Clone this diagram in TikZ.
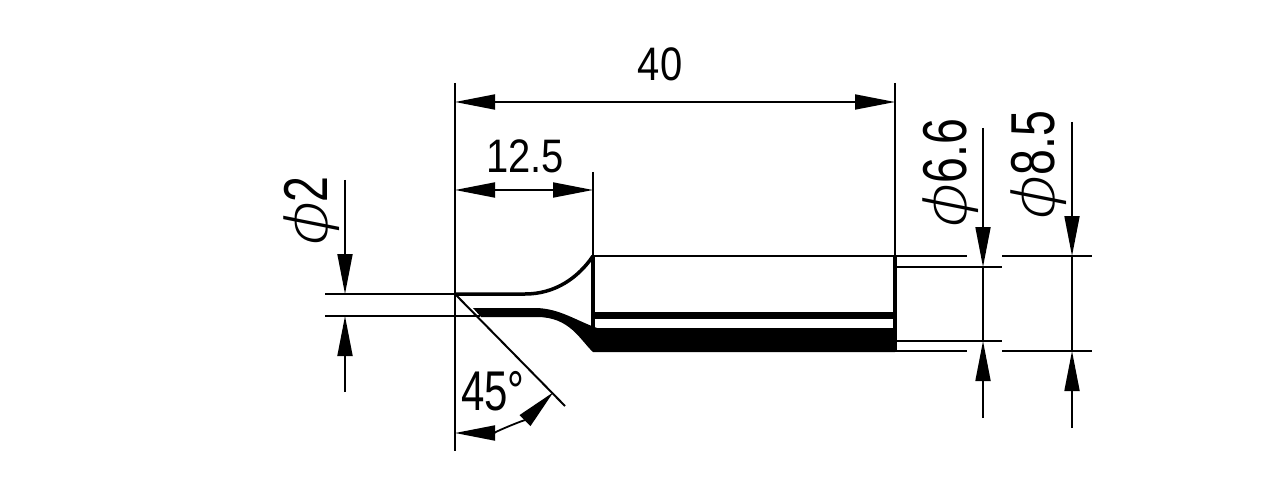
\documentclass[tikz,border=0pt]{standalone}
\usepackage{fontspec}
\setmainfont{Liberation Sans}
\newfontfamily\dimfont[FakeStretch=0.85]{Liberation Sans}
\newfontfamily\tallfont[FakeStretch=0.75]{Liberation Sans}
\newfontfamily\phifont[FakeSlant=0.2,FakeStretch=1.3]{DejaVu Sans ExtraLight}
\usetikzlibrary{arrows.meta}
\tikzset{
  dimline/.style={line width=1.8pt,{Triangle[length=40pt,width=15pt]}-{Triangle[length=40pt,width=15pt]}},
  tipline/.style={line width=1.8pt,-{Triangle[length=40pt,width=15pt]}},
  extline/.style={line width=2pt},
  outline/.style={line width=3.5pt},
  dimlabel/.style={inner sep=0pt,font=\dimfont\fontsize{47}{47}\selectfont},
  anglelabel/.style={inner sep=0pt,font=\tallfont\fontsize{56}{56}\selectfont},
  philabel/.style={inner sep=0pt,rotate=90,font=\tallfont\fontsize{62}{62}\selectfont},
}
\newcommand{\phisign}{{\phifont\fontsize{58}{58}\selectfont\char"03D5}}
\begin{document}
\begin{tikzpicture}[x=1pt,y=-1pt]
\useasboundingbox (0,0) rectangle (1268,489);
% extension lines
\draw[extline] (455,83) coordinate (tipfaceT) -- (455,451) coordinate (tipfaceB);
\draw[extline] (895,83) coordinate (endT) -- (895,256) coordinate (endM);
\draw[extline] (593,172) coordinate (neckT) -- (593,256) coordinate (neckM);
\draw[extline] (325,294) coordinate (phiA) -- (455,294) coordinate (apex);
\draw[extline] (325,316) coordinate (phiB) -- (480,316);
\draw[extline] (895,256) -- (967,256);
\draw[extline] (1002,256) -- (1092,256);
\draw[extline] (895,267) -- (1002,267);
\draw[extline] (895,341) -- (1002,341);
\draw[extline] (895,351) -- (967,351);
\draw[extline] (1002,351) -- (1092,351);
\draw[extline] (apex) -- (565,406) coordinate (chamfer);
% tip body
\draw[outline] (apex) -- (525,294) .. controls (555,294) and (578,278) .. (neckM);
\draw[extline] (neckM) -- (endM);
\draw[outline] (endM) -- (895,352);
\draw[outline] (neckM) -- (593,335);
\fill (473,308) -- (537,308) .. controls (560,309) and (575,320) .. (597,328) -- (895,328) -- (895,352)
  -- (593,352) .. controls (580,340) and (570,317) .. (537,317) -- (481,317) -- cycle;
\fill (593,312) rectangle (895,319);
% dimensions
\draw[dimline] (455,102) -- (895,102);
\draw[dimline] (455,190) -- (593,190);
\node[dimlabel] (lenall) at (660,64) {40};
\node[dimlabel] (lenflat) at (525,156) {12.5};
\draw[tipline] (345,180) -- (345,294);
\draw[tipline] (345,392) -- (345,316);
\draw[tipline] (983,128) -- (983,267);
\draw[tipline] (983,418) -- (983,341);
\draw[line width=1.8pt] (983,267) -- (983,341);
\draw[tipline] (1072,122) -- (1072,256);
\draw[tipline] (1072,428) -- (1072,351);
\draw[line width=1.8pt] (1072,256) -- (1072,351);
\node[philabel] (phitwo) at (312,214) {\phisign 2};
\node[philabel] (phisix) at (951,176) {\phisign 6.6};
\node[philabel] (phieight) at (1039,168) {\phisign 8.5};
% angle
\draw[dimline] (455,433) arc[start angle=90,end angle=45,radius=139];
\node[anglelabel] (angle) at (493,391) {45°};
\end{tikzpicture}
\end{document}
